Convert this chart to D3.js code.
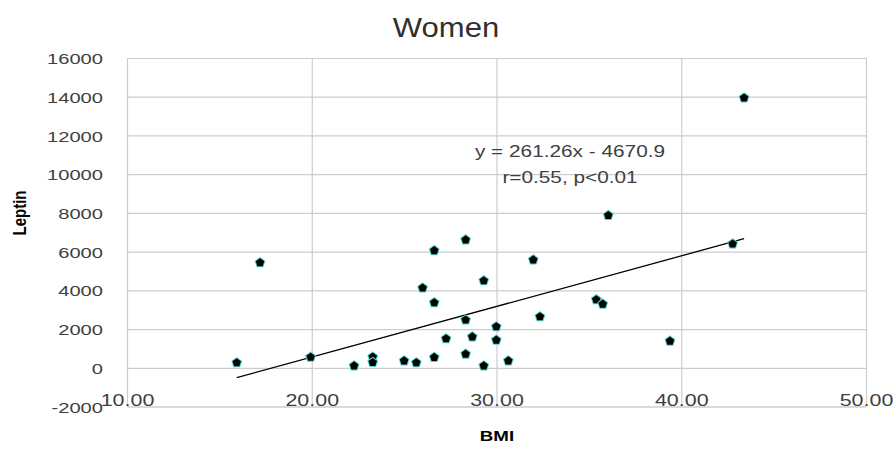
<!DOCTYPE html>
<html>
<head>
<meta charset="utf-8">
<script src="https://cdn.jsdelivr.net/npm/d3@7"></script>
<style>
  body { margin: 0; background: #fff; }
  text { font-family: "Liberation Sans", Arial, sans-serif; }
</style>
</head>
<body>
<div id="chart"></div>
<script>
// values
let bmi    = [15.94, 17.2, 19.94, 22.29, 23.3, 23.3, 25.0, 25.66, 26.0, 26.63, 26.63, 26.63,
              27.27, 28.33, 28.33, 28.33, 28.69, 29.31, 29.31, 29.99, 29.99, 30.64, 31.99,
              32.35, 35.4, 35.75, 36.05, 39.39, 42.78, 43.4];
let leptin = [260, 5430, 550, 100, 560, 280, 360, 260, 4125, 540, 3365, 6056,
              1500, 710, 2470, 6610, 1600, 4500, 100, 2120, 1430, 360, 5575,
              2640, 3520, 3290, 7870, 1380, 6400, 13940];
let xTicks = [10, 20, 30, 40, 50];
let yTicks = [-2000, 0, 2000, 4000, 6000, 8000, 10000, 12000, 14000, 16000];
let slope = 261.26, intercept = -4670.9;
let eqLines = ["y = 261.26x - 4670.9", "r=0.55, p<0.01"];

let chartWidth = 893, chartHeight = 452;
let plotLeft = 127, plotRight = 866, plotTop = 58, plotBottom = 406.5;
let stretch = 1.3;   // the picture's text is wide

let svg = d3.select("#chart").append("svg")
    .attr("width", chartWidth)
    .attr("height", chartHeight)
    .style("background-color", "white");

let xScale = d3.scaleLinear().domain([10, 50]).range([plotLeft, plotRight]);
let yScale = d3.scaleLinear().domain([-2000, 16000]).range([plotBottom, plotTop]);

// horizontal gridlines + y labels
let yAxis = d3.axisLeft(yScale).tickValues(yTicks).tickSize(-(plotRight - plotLeft)).tickPadding(0)
    .tickFormat(d => String(d));
let yAxisGroup = svg.append("g").attr("transform", "translate(" + plotLeft + ",0)").call(yAxis);
yAxisGroup.select(".domain").remove();
yAxisGroup.selectAll("line").attr("stroke", "#cdcdcd").attr("stroke-width", 1.2);
yAxisGroup.selectAll("text")
    .attr("x", -24 / stretch)
    .attr("dy", "0.36em")
    .attr("transform", "scale(" + stretch + ",1)")
    .style("font-size", "15.5px")
    .attr("fill", "#404040");

// vertical gridlines
let xGrid = d3.axisBottom(xScale).tickValues(xTicks).tickSize(-(plotBottom - plotTop)).tickFormat("");
let xGridGroup = svg.append("g").attr("transform", "translate(0," + plotBottom + ")").call(xGrid);
xGridGroup.select(".domain").remove();
xGridGroup.selectAll("line").attr("stroke", "#cdcdcd").attr("stroke-width", 1.2);

// x labels sit just above the bottom line
let xAxis = d3.axisTop(xScale).tickValues(xTicks).tickSize(0).tickPadding(1)
    .tickFormat(d3.format(".2f"));
let xAxisGroup = svg.append("g").attr("transform", "translate(0," + plotBottom + ")").call(xAxis);
xAxisGroup.select(".domain").attr("stroke", "#cdcdcd").attr("stroke-width", 1.2);
xAxisGroup.selectAll("text")
    .attr("transform", "scale(" + stretch + ",1)")
    .attr("x", 0)
    .style("font-size", "16.5px")
    .attr("fill", "#404040");

// trendline over the data range
let xExt = d3.extent(bmi);
svg.append("line")
    .attr("x1", xScale(xExt[0]))
    .attr("y1", yScale(slope * xExt[0] + intercept))
    .attr("x2", xScale(xExt[1]))
    .attr("y2", yScale(slope * xExt[1] + intercept))
    .attr("stroke", "black")
    .attr("stroke-width", 1.3);

// points: small pointed pentagon like the excel marker
let pentagon = {
    draw: function(context, size) {
        let r = Math.sqrt(size / 2.4);
        for (let k = 0; k < 5; k++) {
            let a = -Math.PI / 2 + k * 2 * Math.PI / 5;
            let px = r * Math.cos(a), py = r * Math.sin(a);
            if (k === 0) context.moveTo(px, py); else context.lineTo(px, py);
        }
        context.closePath();
    }
};
let marker = d3.symbol().type(pentagon).size(48);
svg.selectAll(".pt").data(bmi).enter()
    .append("path")
    .attr("class", "pt")
    .attr("d", marker)
    .attr("transform", (d, i) => "translate(" + xScale(d) + "," + yScale(leptin[i]) + ")")
    .attr("fill", "black")
    .attr("stroke", "#4fd3ca")
    .attr("stroke-width", 2)
    .style("paint-order", "stroke");

// equation label
svg.selectAll(".eq").data(eqLines).enter()
    .append("g")
    .attr("class", "eq")
    .attr("transform", (d, i) => "translate(570," + (157 + i * 26) + ")")
    .append("text")
    .text(d => d)
    .attr("text-anchor", "middle")
    .attr("transform", "scale(" + stretch + ",1)")
    .style("font-size", "16px")
    .attr("fill", "#404040");

// title
svg.append("g").attr("transform", "translate(446,37)")
    .append("text")
    .text("Women")
    .attr("text-anchor", "middle")
    .attr("transform", "scale(1.15,1)")
    .style("font-size", "27px")
    .attr("fill", "#303030");

// axis titles
svg.append("g").attr("transform", "translate(497,441)")
    .append("text")
    .text("BMI")
    .attr("text-anchor", "middle")
    .attr("transform", "scale(1.25,1)")
    .style("font-size", "15px")
    .style("font-weight", "bold")
    .attr("fill", "black");

svg.append("g").attr("transform", "translate(26,213) rotate(-90)")
    .append("text")
    .text("Leptin")
    .attr("text-anchor", "middle")
    .attr("transform", "scale(1,1.25)")
    .style("font-size", "15px")
    .style("font-weight", "bold")
    .attr("fill", "black");
</script>
</body>
</html>
